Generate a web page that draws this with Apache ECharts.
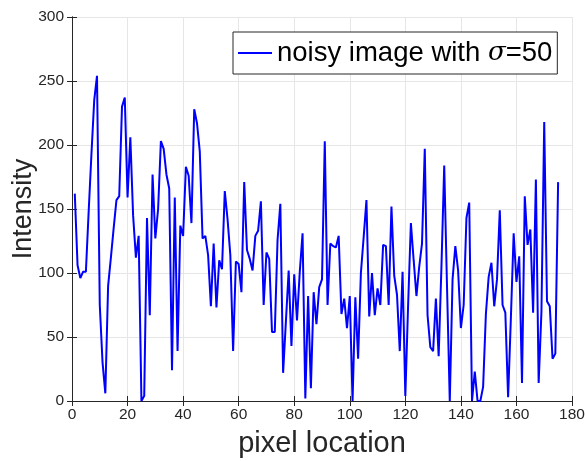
<!DOCTYPE html>
<html>
<head>
<meta charset="utf-8">
<script src="https://cdn.jsdelivr.net/npm/echarts@6/dist/echarts.min.js"></script>
<style>
  html, body { margin: 0; padding: 0; background: #fff; }
  #chart { width: 585px; height: 461px; }
</style>
</head>
<body>
<div id="chart"></div>
<script>
// intensity along the pixel row, pixel 1 .. 175
const intensity = [
  162, 106, 96, 101, 101, 148, 193, 235, 254, 75,
  30, 6, 90, 112, 135, 157, 160, 230, 237, 159,
  206, 145, 112, 129, 0, 4, 143, 67, 177, 127,
  150, 203, 197, 177, 166, 24, 159, 39, 137, 129,
  183, 176, 139, 228, 217, 195, 127, 129, 114, 74,
  123, 73, 110, 103, 164, 142, 114, 39, 109, 107,
  85, 171, 118, 111, 102, 129, 133, 156, 75, 116,
  111, 54, 54, 126, 154, 22, 62, 102, 43, 99,
  63, 101, 131, 2, 82, 10, 85, 60, 89, 95,
  203, 75, 123, 121, 120, 129, 68, 80, 57, 82,
  0, 81, 33, 100, 128, 157, 66, 100, 67, 88,
  75, 122, 121, 75, 152, 98, 83, 39, 101, 4,
  75, 139, 110, 82, 105, 123, 197, 67, 42, 39,
  80, 35, 105, 184, 90, 0, 95, 121, 102, 57,
  75, 143, 155, 0, 23, 0, 0, 11, 68, 97,
  108, 74, 95, 149, 75, 69, 3, 65, 131, 93,
  113, 14, 160, 122, 134, 69, 173, 14, 70, 218,
  78, 74, 33, 37, 171
];
const xTicks = [0, 20, 40, 60, 80, 100, 120, 140, 160, 180];
const yTicks = [0, 50, 100, 150, 200, 250, 300];
const seriesName = "noisy image with σ=50";

let font = "Liberation Sans";
let axisColor = "#262626";

let chart = echarts.init(document.getElementById("chart"));

function axisBase(ticks, show) {
  return {
    type: "value",
    min: ticks[0],
    max: ticks[ticks.length - 1],
    interval: ticks[1] - ticks[0],
    nameMoveOverlap: false,
    axisLine: { show: true, lineStyle: { color: axisColor, width: 1 } },
    axisTick: { show: true, inside: true, length: 5, lineStyle: { color: axisColor } },
    axisLabel: { show: show, color: axisColor, fontFamily: font, fontSize: 15.5 },
    splitLine: { show: show, lineStyle: { color: "#e6e6e6", width: 1 } }
  };
}

let xMain = axisBase(xTicks, true);
xMain.position = "bottom";
xMain.axisLabel.margin = 6;
xMain.name = "pixel location";
xMain.nameLocation = "middle";
xMain.nameGap = 28;
xMain.nameTextStyle = { color: axisColor, fontFamily: font, fontSize: 29 };

let xTop = axisBase(xTicks, false);
xTop.position = "top";

let yMain = axisBase(yTicks, true);
yMain.position = "left";
yMain.axisLabel.margin = 8;
yMain.name = "Intensity";
yMain.nameLocation = "middle";
yMain.nameGap = 35;
yMain.nameTextStyle = { color: axisColor, fontFamily: font, fontSize: 27 };

let yRight = axisBase(yTicks, false);
yRight.position = "right";

chart.setOption({
  animation: false,
  backgroundColor: "#fff",
  grid: { left: 72, right: 13, top: 17, bottom: 60, containLabel: false, outerBoundsMode: "none" },
  legend: {
    left: 233,
    top: 32,
    data: [seriesName],
    icon: "rect",
    itemWidth: 34,
    itemHeight: 2,
    itemGap: 4,
    padding: [7, 5, 7, 5],
    borderColor: axisColor,
    borderWidth: 1,
    backgroundColor: "#fff",
    formatter: function () {
      return "noisy image with {it|σ}=50";
    },
    textStyle: {
      color: "#000",
      fontFamily: font,
      fontSize: 27.5,
      rich: {
        it: { fontStyle: "italic", fontFamily: "DejaVu Serif", fontSize: 26, color: "#000" }
      }
    }
  },
  xAxis: [xMain, xTop],
  yAxis: [yMain, yRight],
  series: [
    {
      name: seriesName,
      type: "line",
      xAxisIndex: 0,
      yAxisIndex: 0,
      symbol: "none",
      lineStyle: { color: "#0000ff", width: 2 },
      itemStyle: { color: "#0000ff" },
      data: intensity.map((v, i) => [i + 1, v])
    }
  ]
});
</script>
</body>
</html>
